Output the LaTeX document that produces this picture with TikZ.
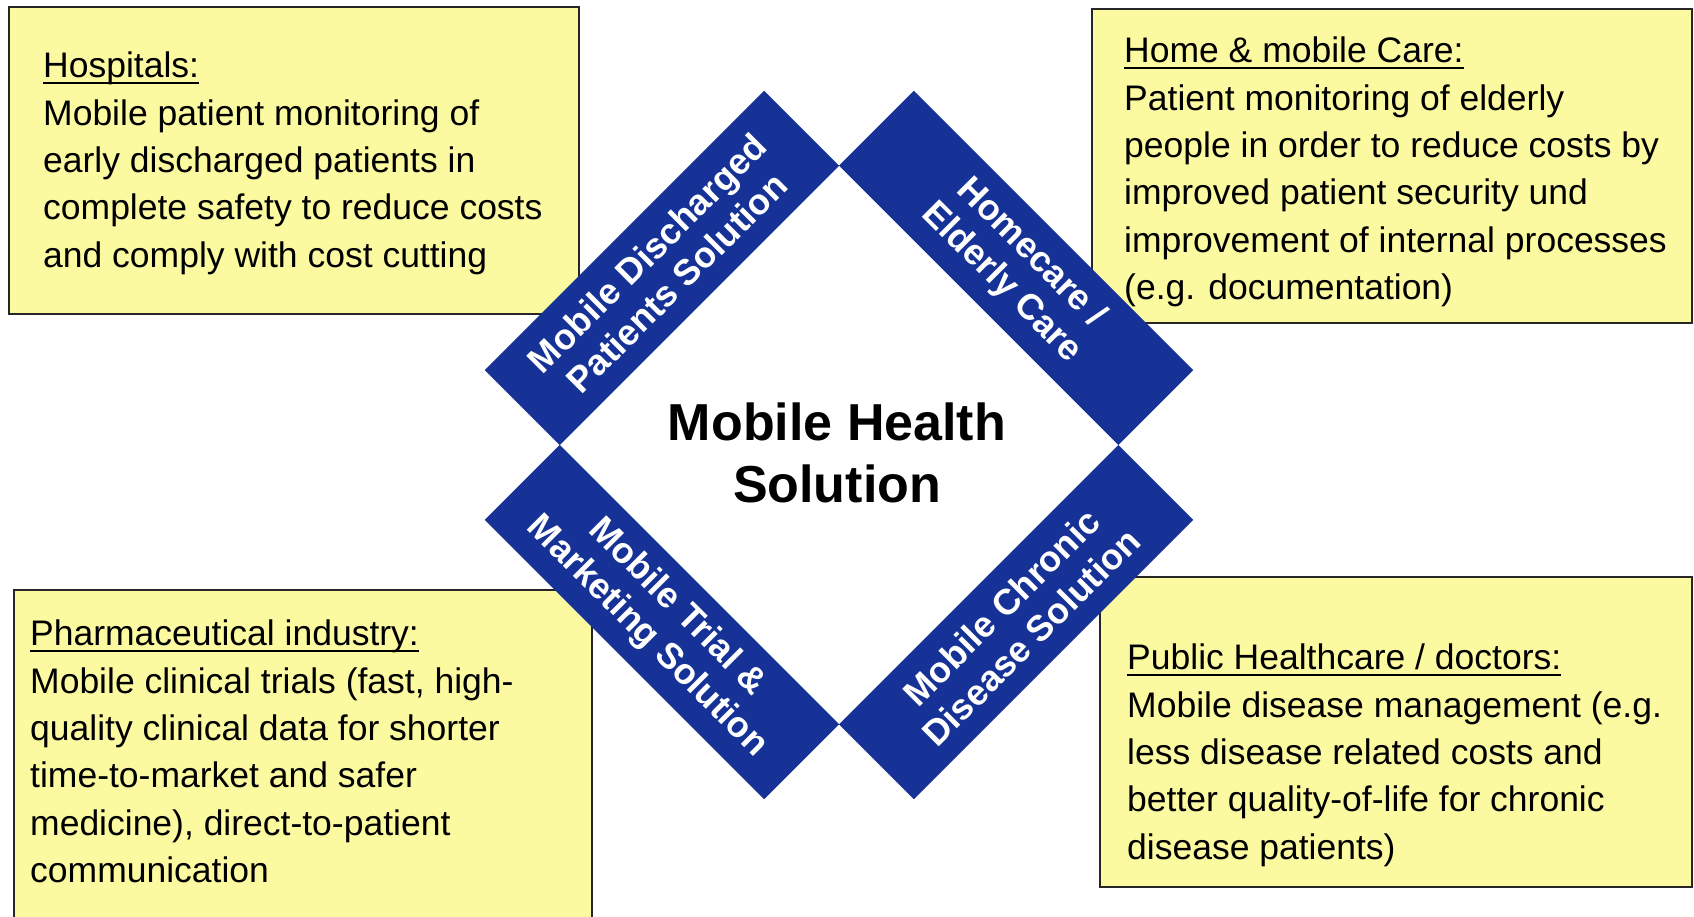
\documentclass[tikz,border=0pt]{standalone}
\usepackage{fontspec}
\setmainfont{Liberation Sans}
\definecolor{boxyellow}{RGB}{252,250,160}
\definecolor{bandblue}{RGB}{22,50,150}
\newcommand{\hdrline}[1]{\setbox0\hbox{#1}\rlap{\rule[-6.5pt]{\wd0}{2.2pt}}\box0}
\begin{document}
\begin{tikzpicture}[x=1pt,y=-1pt,
  infobox/.style={draw=black!85, line width=1.8pt, fill=boxyellow, rectangle, inner sep=0pt, anchor=north west},
  infotext/.style={anchor=north west, inner sep=0pt, align=left, font={\fontsize{35.5}{47.3}\selectfont}, text=black},
  band/.style={fill=bandblue, rectangle, inner sep=0pt, minimum width=395pt, minimum height=106pt, text=white, align=center, font={\bfseries\fontsize{36}{42}\selectfont}},
  hub/.style={align=center, inner sep=0pt, font={\bfseries\fontsize{52}{62}\selectfont}}]
\useasboundingbox (0,0) rectangle (1694,917);
\fill[white] (0,0) rectangle (1694,917);
% boxes
\node[infobox, minimum width=570pt, minimum height=307pt] (hospbox) at (8,6) {};
\node[infobox, minimum width=600pt, minimum height=314pt] (homebox) at (1091,8) {};
\node[infobox, minimum width=578pt, minimum height=340pt] (pharmbox) at (13,589) {};
\node[infobox, minimum width=592pt, minimum height=310pt] (pubbox) at (1099,576) {};
% texts
\node[infotext] (hosptext) at (43,52) {\hdrline{Hospitals:}\\Mobile patient monitoring of\\early discharged patients in\\complete safety to reduce costs\\and comply with cost cutting};
\node[infotext] (hometext) at (1124,37) {\hdrline{Home \& mobile Care:}\\Patient monitoring of elderly\\people in order to reduce costs by\\improved patient security und\\improvement of internal processes\\(e.g. documentation)};
\node[infotext] (pharmtext) at (30,620) {\hdrline{Pharmaceutical industry:}\\Mobile clinical trials (fast, high-\\quality clinical data for shorter\\time-to-market and safer\\medicine), direct-to-patient\\communication};
\node[infotext] (pubtext) at (1127,644) {\hdrline{Public Healthcare / doctors:}\\Mobile disease management (e.g.\\less disease related costs and\\better quality-of-life for chronic\\disease patients)};
% diamond bands
\node[band, rotate=45] (dis) at (661.9,267.9) {Mobile Discharged\\Patients Solution};
\node[band, rotate=-45] (home) at (1016.1,267.9) {Homecare /\\Elderly Care};
\node[band, rotate=-45] (trial) at (661.9,622.1) {Mobile Trial \&\\Marketing Solution};
\node[band, rotate=45] (chron) at (1016.1,622.1) {Mobile Chronic\\Disease Solution};
% centre
\node[hub] (hub) at (837,453) {Mobile Health\\Solution};
\end{tikzpicture}
\end{document}
